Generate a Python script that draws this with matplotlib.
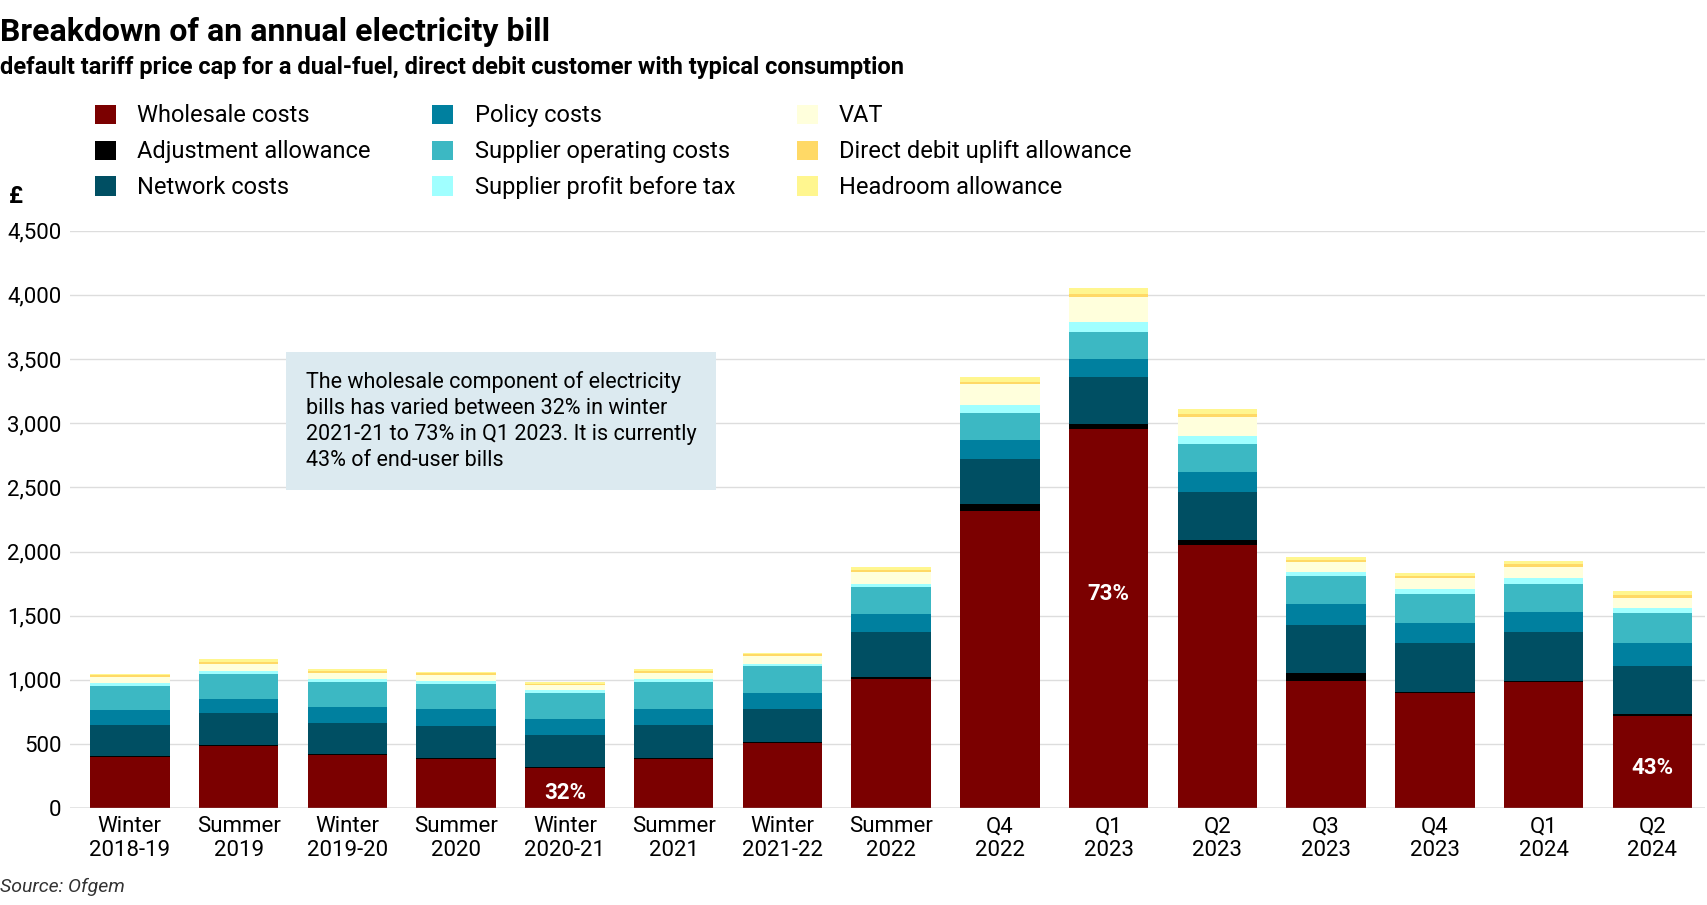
import matplotlib.pyplot as plt
import numpy as np

plt.rcParams['font.family'] = ['Roboto', 'DejaVu Sans']

periods = ['Winter\n2018-19', 'Summer\n2019', 'Winter\n2019-20', 'Summer\n2020', 'Winter\n2020-21',
           'Summer\n2021', 'Winter\n2021-22', 'Summer\n2022', 'Q4\n2022', 'Q1\n2023', 'Q2\n2023',
           'Q3\n2023', 'Q4\n2023', 'Q1\n2024', 'Q2\n2024']

wholesale = [400, 485, 415, 385, 310, 385, 510, 1010, 2319, 2956, 2050, 990, 900, 980, 720]
adjustment = [5, 5, 5, 5, 10, 8, 5, 10, 49, 41, 40, 60, 5, 10, 15]
network = [243, 250, 247, 248, 253, 255, 256, 350, 350, 360, 377, 380, 385, 380, 375]
policy = [118, 114, 120, 133, 122, 128, 130, 145, 150, 142, 155, 160, 150, 160, 180]
operating = [187, 195, 200, 200, 206, 206, 208, 205, 212, 212, 220, 220, 230, 220, 230]
profit = [24, 21, 23, 18, 18, 23, 18, 30, 65, 75, 60, 30, 40, 40, 40]
vat = [46, 57, 47, 52, 42, 52, 57, 90, 158, 194, 148, 80, 80, 90, 80]
dd_uplift = [12, 16, 13, 13, 10, 13, 16, 15, 18, 26, 21, 15, 20, 25, 25]
headroom = [14, 18, 13, 10, 13, 13, 13, 25, 36, 49, 39, 25, 20, 25, 25]

series = [
    ('Wholesale costs', wholesale, '#7b0000'),
    ('Adjustment allowance', adjustment, '#000000'),
    ('Network costs', network, '#004f63'),
    ('Policy costs', policy, '#00809f'),
    ('Supplier operating costs', operating, '#3cb8c3'),
    ('Supplier profit before tax', profit, '#a0ffff'),
    ('VAT', vat, '#ffffdc'),
    ('Direct debit uplift allowance', dd_uplift, '#ffd966'),
    ('Headroom allowance', headroom, '#fff68f'),
]

# bar index, label, y position in £
pct_labels = [(4, '32%', 120), (9, '73%', 1670), (14, '43%', 310)]

fig = plt.figure(figsize=(17.08, 9.05), dpi=100)
ax = fig.add_axes([0.041, 0.107, 0.957, 0.638])

x = np.arange(len(periods))
bottom = np.zeros(len(periods))
handles = []
for name, vals, col in series:
    b = ax.bar(x, vals, 0.73, bottom=bottom, color=col, label=name, zorder=3)
    handles.append(b)
    bottom += np.array(vals)

for i, txt, yv in pct_labels:
    ax.text(i, yv, txt, color='white', ha='center', va='center',
            fontsize=16, fontweight='bold', zorder=4)

ax.set_ylim(0, 4500)
ax.set_xlim(-0.55, 14.48)
ax.set_yticks(range(0, 4501, 500))
ax.set_yticklabels([f'{v:,}' for v in range(0, 4501, 500)], fontsize=16)
ax.set_xticks(x)
ax.set_xticklabels(periods, fontsize=16, linespacing=1.15)
ax.tick_params(length=0, pad=6)
ax.grid(axis='y', color='#dddddd', lw=1, zorder=0)
for s in ax.spines.values():
    s.set_visible(False)
ax.axhline(0, color='#999999', lw=1, zorder=4)

fig.text(0.0, 0.965, 'Breakdown of an annual electricity bill', fontsize=23, fontweight='bold', va='center')
fig.text(0.0, 0.925, 'default tariff price cap for a dual-fuel, direct debit customer with typical consumption',
         fontsize=17, fontweight='bold', va='center')
fig.text(0.005, 0.783, '£', fontsize=17, fontweight='bold', va='center')
fig.text(0.0, 0.02, 'Source: Ofgem', fontsize=14, style='italic', color='#333333', va='center')

fig.legend(handles=handles, loc='upper left', bbox_to_anchor=(0.05, 0.895), ncol=3, frameon=False,
           fontsize=17, handlelength=0.9, handleheight=0.9, columnspacing=2.6, labelspacing=0.55,
           handletextpad=0.9, borderaxespad=0)

fig.text(0.179, 0.535, 'The wholesale component of electricity\nbills has varied between 32% in winter\n'
         '2021-21 to 73% in Q1 2023. It is currently\n43% of end-user bills',
         fontsize=15.5, va='center', ha='left', linespacing=1.3,
         bbox=dict(boxstyle='square,pad=0.9', fc='#dceaf0', ec='none'))

fig.savefig('out.png', dpi=100)
